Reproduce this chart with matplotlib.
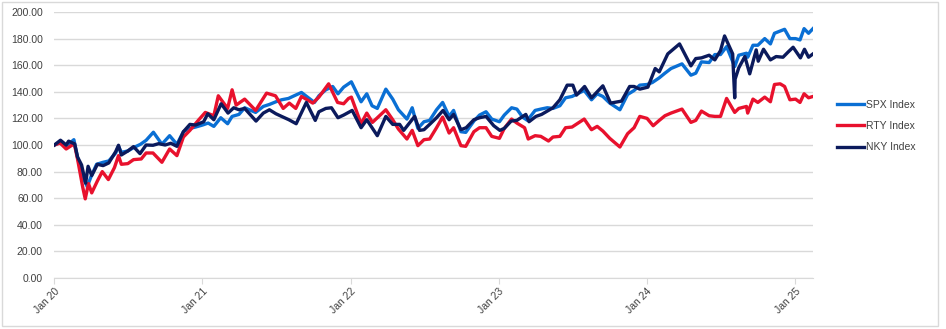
import pandas as pd
import matplotlib
matplotlib.use("Agg")
import matplotlib.pyplot as plt
import matplotlib.dates as mdates
from matplotlib.ticker import FuncFormatter, MultipleLocator
from matplotlib.patches import Rectangle

plt.rcParams["font.family"] = ["Liberation Sans", "DejaVu Sans"]

# index levels rebased to 100
spx_dates = [
    "2020-01-02", "2020-01-15", "2020-01-31", "2020-02-19", "2020-02-28", "2020-03-12",
    "2020-03-23", "2020-04-01", "2020-04-15", "2020-05-01", "2020-05-15", "2020-06-01",
    "2020-06-08", "2020-06-15", "2020-07-01", "2020-07-15", "2020-08-01", "2020-08-15",
    "2020-09-02", "2020-09-23", "2020-10-12", "2020-10-30", "2020-11-15", "2020-12-01",
    "2020-12-15", "2021-01-01", "2021-01-15", "2021-01-29", "2021-02-15", "2021-03-04",
    "2021-03-15", "2021-04-01", "2021-04-15", "2021-05-12", "2021-05-31", "2021-06-15",
    "2021-07-01", "2021-07-15", "2021-08-01", "2021-08-15", "2021-09-02", "2021-10-04",
    "2021-10-15", "2021-11-01", "2021-11-18", "2021-12-01", "2021-12-15", "2022-01-03",
    "2022-01-27", "2022-02-10", "2022-02-23", "2022-03-08", "2022-03-29", "2022-04-15",
    "2022-04-29", "2022-05-20", "2022-06-02", "2022-06-16", "2022-07-01", "2022-07-15",
    "2022-08-01", "2022-08-16", "2022-09-01", "2022-09-12", "2022-09-30", "2022-10-12",
    "2022-11-01", "2022-11-15", "2022-12-01", "2022-12-15", "2023-01-03", "2023-01-15",
    "2023-02-02", "2023-02-15", "2023-03-01", "2023-03-13", "2023-04-01", "2023-04-15",
    "2023-05-01", "2023-05-15", "2023-06-01", "2023-06-15", "2023-07-01", "2023-07-31",
    "2023-08-18", "2023-09-01", "2023-09-15", "2023-10-02", "2023-10-27", "2023-11-15",
    "2023-12-01", "2023-12-15", "2024-01-02", "2024-01-15", "2024-02-01", "2024-02-15",
    "2024-03-01", "2024-03-28", "2024-04-19", "2024-05-01", "2024-05-15", "2024-06-03",
    "2024-06-17", "2024-07-01", "2024-07-16", "2024-08-05", "2024-08-15", "2024-09-03",
    "2024-09-06", "2024-09-19", "2024-10-01", "2024-10-18", "2024-11-01", "2024-11-11",
    "2024-12-06", "2024-12-19", "2025-01-02", "2025-01-13", "2025-01-23", "2025-02-03",
    "2025-02-14",
]
spx_values = [
    100, 101.8, 99, 104, 90.7, 76,
    68.7, 76, 85.5, 87, 88, 94,
    99, 94.5, 95.5, 98, 100.5, 103.5,
    109.6, 100.6, 107, 100.5, 110, 112.5,
    113.5, 115, 116.5, 114, 120.5, 116,
    121.5, 123, 128, 124.5, 129, 130.5,
    132.5, 134, 135, 137, 139.5, 132,
    137, 141.5, 144, 138.5, 143.5, 147.5,
    132.5, 138.5, 129.5, 127.5, 142, 134.5,
    126.5, 119.5, 128, 112.5, 117.5, 118.5,
    126.5, 132, 121.5, 126, 110, 109.5,
    118, 122.5, 125, 119.5, 117.5, 122.5,
    128, 127, 121, 118.5, 126, 127,
    128, 127.5, 129.5, 135.5, 136.5, 141,
    134, 138.5, 136.5, 131.5, 126.5, 138,
    141, 145, 145.5, 147, 150.5, 154,
    157.5, 161, 152.5, 154, 162.5, 162,
    168, 168, 174, 159, 167.5, 169,
    166, 175, 175, 180, 176, 184,
    187, 180, 180, 179, 187.5, 184,
    187.5,
]

rty_dates = [
    "2020-01-02", "2020-01-16", "2020-01-31", "2020-02-20", "2020-02-28", "2020-03-12",
    "2020-03-18", "2020-03-26", "2020-04-03", "2020-04-17", "2020-04-29", "2020-05-14",
    "2020-05-29", "2020-06-08", "2020-06-15", "2020-07-01", "2020-07-15", "2020-08-03",
    "2020-08-15", "2020-09-01", "2020-09-23", "2020-10-12", "2020-10-30", "2020-11-15",
    "2020-12-01", "2020-12-23", "2021-01-08", "2021-01-29", "2021-02-09", "2021-03-04",
    "2021-03-15", "2021-03-25", "2021-04-15", "2021-05-12", "2021-06-08", "2021-06-30",
    "2021-07-19", "2021-08-03", "2021-08-19", "2021-09-02", "2021-09-30", "2021-10-15",
    "2021-11-08", "2021-11-30", "2021-12-15", "2021-12-27", "2022-01-03", "2022-01-27",
    "2022-02-10", "2022-02-24", "2022-03-29", "2022-04-15", "2022-04-29", "2022-05-20",
    "2022-06-02", "2022-06-16", "2022-07-01", "2022-07-15", "2022-08-01", "2022-08-16",
    "2022-09-01", "2022-09-12", "2022-09-30", "2022-10-12", "2022-11-01", "2022-11-15",
    "2022-12-01", "2022-12-15", "2023-01-03", "2023-01-15", "2023-02-02", "2023-02-15",
    "2023-03-06", "2023-03-15", "2023-04-01", "2023-04-15", "2023-05-04", "2023-05-15",
    "2023-06-01", "2023-06-15", "2023-07-01", "2023-07-31", "2023-08-18", "2023-09-01",
    "2023-09-15", "2023-10-02", "2023-10-27", "2023-11-15", "2023-12-01", "2023-12-15",
    "2024-01-02", "2024-01-17", "2024-02-01", "2024-02-15", "2024-03-01", "2024-03-28",
    "2024-04-19", "2024-05-01", "2024-05-15", "2024-06-03", "2024-06-17", "2024-07-01",
    "2024-07-16", "2024-08-05", "2024-08-15", "2024-09-03", "2024-09-06", "2024-09-19",
    "2024-10-01", "2024-10-18", "2024-11-01", "2024-11-11", "2024-11-25", "2024-12-06",
    "2024-12-19", "2025-01-02", "2025-01-13", "2025-01-23", "2025-02-03", "2025-02-14",
]
rty_values = [
    100, 101.5, 97, 101, 89.5, 68,
    59.5, 71, 64, 73, 80, 74,
    83, 92, 85.5, 86, 89, 89.5,
    94, 94, 87, 97, 92, 106,
    111, 119, 124.5, 122, 137, 127.5,
    141.5, 130, 134.5, 126, 139, 137,
    127.5, 131.5, 127.5, 136.5, 131.5, 136,
    146, 132, 131, 135, 136, 116,
    124, 117, 126.5, 119, 112, 104.5,
    111, 99.5, 104, 104.5, 113, 121,
    109, 113, 99.5, 99, 110, 113,
    113, 106.5, 105, 112.5, 119.5, 116.5,
    113, 104.5, 107, 106.5, 103, 106,
    106.5, 113, 113.5, 119.5, 111.5, 114,
    110.5, 105, 98.5, 108.5, 113, 121.5,
    120, 114.5, 118.5, 122, 124, 127,
    117, 118.5, 125.5, 122, 121.5, 121.5,
    135, 124.5, 127.5, 129, 124, 134.5,
    132, 136, 132.5, 145.5, 146, 144,
    134, 134.5, 132, 138.5, 135.5, 136.5,
]

nky_dates = [
    "2020-01-02", "2020-01-17", "2020-01-31", "2020-02-06", "2020-02-21", "2020-02-28",
    "2020-03-09", "2020-03-19", "2020-03-25", "2020-04-03", "2020-04-17", "2020-05-01",
    "2020-05-15", "2020-06-01", "2020-06-08", "2020-06-15", "2020-07-01", "2020-07-15",
    "2020-07-31", "2020-08-15", "2020-09-01", "2020-09-15", "2020-10-01", "2020-10-15",
    "2020-10-30", "2020-11-15", "2020-12-01", "2020-12-15", "2021-01-04", "2021-01-14",
    "2021-01-29", "2021-02-16", "2021-03-05", "2021-03-19", "2021-04-01", "2021-04-15",
    "2021-05-13", "2021-05-31", "2021-06-15", "2021-07-01", "2021-07-15", "2021-08-02",
    "2021-08-20", "2021-09-14", "2021-10-06", "2021-10-15", "2021-11-01", "2021-11-15",
    "2021-12-01", "2021-12-15", "2022-01-05", "2022-01-27", "2022-02-10", "2022-03-08",
    "2022-03-29", "2022-04-15", "2022-05-02", "2022-05-12", "2022-06-08", "2022-06-20",
    "2022-07-01", "2022-07-15", "2022-08-01", "2022-08-17", "2022-09-01", "2022-09-12",
    "2022-09-30", "2022-10-13", "2022-11-01", "2022-11-15", "2022-12-01", "2022-12-20",
    "2023-01-04", "2023-01-15", "2023-02-01", "2023-02-15", "2023-03-09", "2023-03-17",
    "2023-04-03", "2023-04-17", "2023-05-01", "2023-05-15", "2023-06-01", "2023-06-19",
    "2023-07-03", "2023-07-12", "2023-08-01", "2023-08-18", "2023-09-15", "2023-10-04",
    "2023-10-31", "2023-11-20", "2023-12-01", "2023-12-15", "2024-01-04", "2024-01-22",
    "2024-02-01", "2024-02-22", "2024-03-22", "2024-04-19", "2024-05-01", "2024-05-15",
    "2024-06-03", "2024-06-17", "2024-07-01", "2024-07-11", "2024-07-31", "2024-08-02",
    "2024-08-05", "2024-08-06", "2024-08-15", "2024-08-30", "2024-09-11", "2024-09-27",
    "2024-10-02", "2024-10-15", "2024-11-01", "2024-11-15", "2024-12-02", "2024-12-15",
    "2024-12-27", "2025-01-14", "2025-01-24", "2025-02-03", "2025-02-14",
]
nky_values = [
    100, 103.6, 100, 102.9, 100.8, 91,
    85, 71.3, 84, 77, 85.5, 84.5,
    86.5, 95, 99.8, 92.5, 95.5, 98.8,
    93.5, 100, 99.8, 101, 100, 101.3,
    99, 110, 115.5, 115, 117.5, 123.5,
    119, 131, 124, 128, 126.5, 127.5,
    118, 124, 126.5, 123.5, 121.5, 119,
    116, 132, 118.5, 125, 127.5, 128,
    120.5, 122.5, 126, 113, 119, 107,
    121.5, 115.5, 115.5, 111, 121.5, 111,
    111.5, 115.5, 120.5, 126, 119, 123,
    111.5, 113, 119, 120.5, 121.5, 114.5,
    111, 112.5, 118, 118.5, 123, 117.5,
    121.5, 123, 125.5, 128, 134, 145,
    145, 137.5, 144, 135.5, 144.5, 131.5,
    133, 144, 144, 142, 143.5, 157.5,
    155, 168.5, 176, 159.5, 165, 165.5,
    167.5, 164, 171, 182, 168.5, 154.5,
    135.5, 149.5, 158, 166.5, 153.5, 171.5,
    163, 172, 164, 166.5, 166, 170,
    173.5, 165.5, 172, 166, 168.5,
]

series = [
    ("SPX Index", spx_dates, spx_values, "#0A6FD4"),
    ("RTY Index", rty_dates, rty_values, "#E8112D"),
    ("NKY Index", nky_dates, nky_values, "#0B1A5C"),
]

fig = plt.figure(figsize=(9.46, 3.29), dpi=100)
ax = fig.add_axes([54 / 946, 51 / 329, 759 / 946, 266 / 329])

for label, dates, values, color in series:
    ax.plot(pd.to_datetime(dates), values, color=color, lw=2.4, label=label,
            solid_joinstyle="round")

ax.set_ylim(0, 200)
ax.set_xlim(pd.Timestamp("2020-01-01"), pd.Timestamp("2025-02-14"))
ax.yaxis.set_major_locator(MultipleLocator(20))
ax.yaxis.set_major_formatter(FuncFormatter(lambda v, p: f"{v:.2f}"))
ax.grid(axis="y", color="#D9D9D9", lw=1)
ax.set_axisbelow(True)

ax.xaxis.set_major_locator(mdates.YearLocator())
ax.xaxis.set_major_formatter(mdates.DateFormatter("Jan %y"))
for lbl in ax.get_xticklabels():
    lbl.set_rotation(45)
    lbl.set_ha("right")
    lbl.set_rotation_mode("anchor")

for side in ["left", "right", "top"]:
    ax.spines[side].set_visible(False)
ax.spines["bottom"].set_color("#D9D9D9")
ax.tick_params(axis="y", length=0, labelsize=7.5, colors="#404040", pad=8)
ax.tick_params(axis="x", length=4, color="#D9D9D9", labelsize=7.5, colors="#404040", pad=2)

leg = fig.legend(loc="center left", bbox_to_anchor=(828 / 946, 1 - 126 / 329),
                 frameon=False, fontsize=7.5, handlelength=2.6, handletextpad=0.1,
                 labelspacing=1.1)
for t in leg.get_texts():
    t.set_color("#404040")

fig.patches.append(Rectangle((0.002, 0.01), 936 / 946, 0.985, transform=fig.transFigure,
                             fill=False, edgecolor="#D9D9D9", lw=1))

fig.savefig("out.png", dpi=100)
